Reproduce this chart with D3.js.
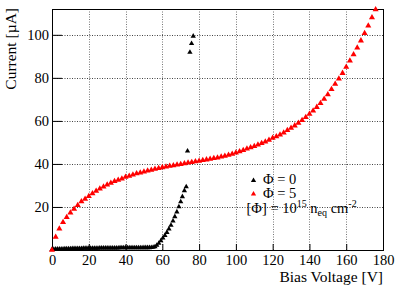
<!DOCTYPE html>
<html>
<head>
<meta charset="utf-8">
<script src="https://cdn.jsdelivr.net/npm/d3@7"></script>
<style>
  html, body { margin: 0; padding: 0; background: #fff; }
  svg { display: block; }
  svg text { font-family: "Liberation Serif", "Times New Roman", serif; }
</style>
</head>
<body>
<svg id="chart" width="398" height="287"></svg>
<script>
// Φ = 0 : bias voltage [V] and current [µA]
const voltPhi0 = [
  0, 1, 2, 3, 4, 5, 6, 7, 8, 9, 10, 11, 12, 13, 14, 15, 16, 17, 18, 19,
  20, 21, 22, 23, 24, 25, 26, 27, 28, 29, 30, 31, 32, 33, 34, 35, 36, 37, 38, 39,
  40, 41, 42, 43, 44, 45, 46, 47, 48, 49, 50, 51, 52, 53, 54, 55,
  56, 57, 58.1, 59.2, 60.3, 61.4, 62.5, 63.6, 64.7, 65.8, 66.8, 67.9, 69, 70, 70.9, 72, 73,
  73.7, 75, 75.9, 76.8
];
const currPhi0 = [
  0.2, 0.3, 0.4, 0.4, 0.5, 0.5, 0.5, 0.6, 0.6, 0.6, 0.6, 0.7, 0.7, 0.7, 0.7, 0.7, 0.7, 0.8, 0.8, 0.8,
  0.8, 0.8, 0.8, 0.8, 0.8, 0.8, 0.9, 0.9, 0.9, 0.9, 0.9, 0.9, 0.9, 0.9, 0.9, 0.9, 0.9, 1.0, 1.0, 1.0,
  1.0, 1.0, 1.0, 1.0, 1.0, 1.0, 1.0, 1.0, 1.0, 1.0, 1.1, 1.1, 1.1, 1.1, 1.2, 1.3,
  1.5, 2.2, 3.1, 4.3, 5.6, 6.8, 8.2, 9.8, 11.5, 13.5, 15.5, 17.7, 20.1, 22.4, 24.8, 27.6, 29.4,
  46.0, 91.9, 96.0, 99.4
];

// Φ = 5
const voltPhi5 = [
  0, 2, 4, 6, 8, 10, 12, 14, 16, 18, 20, 22, 24, 26, 28, 30, 32, 34, 36, 38,
  40, 42, 44, 46, 48, 50, 52, 54, 56, 58, 60, 62, 64, 66, 68, 70, 72, 74, 76, 78,
  80, 82, 84, 86, 88, 90, 92, 94, 96, 98, 100, 102, 104, 106, 108, 110, 112, 114, 116, 118,
  120, 122, 124, 126, 128, 130, 132, 134, 136, 138, 140, 142, 144, 146, 148, 150, 152, 154, 156, 158,
  160, 162, 164, 166, 168, 170, 172, 174, 176
];
const currPhi5 = [
  0, 6.0, 9.9, 12.9, 15.2, 17.3, 19.1, 20.8, 22.5, 23.7, 25.0, 26.3, 27.4, 28.5, 29.4, 30.3, 31.1, 31.9, 32.5, 33.1,
  33.9, 34.4, 35.0, 35.5, 35.9, 36.4, 36.8, 37.2, 37.6, 38.0, 38.4, 38.7, 39.0, 39.3, 39.6, 39.9, 40.2, 40.5, 40.8, 41.1,
  41.4, 41.7, 42.0, 42.3, 42.6, 42.9, 43.3, 43.7, 44.1, 44.6, 45.2, 45.8, 46.4, 47.0, 47.6, 48.2, 48.9, 49.6, 50.3, 51.1,
  52.0, 52.8, 53.6, 54.5, 55.6, 56.7, 57.8, 59.0, 60.3, 61.7, 63.2, 64.7, 66.4, 68.2, 70.2, 72.3, 74.7, 77.1, 79.6, 82.2,
  85.0, 88.0, 90.9, 94.0, 97.3, 100.7, 104.2, 108.0, 111.8
];

const xMajor = [0, 20, 40, 60, 80, 100, 120, 140, 160, 180];
const yMajor = [0, 20, 40, 60, 80, 100];
const yLabels = [20, 40, 60, 80, 100];

const svg = d3.select('#chart');
const W = 398;
const H = 287;
const margin = { top: 9, right: 15, bottom: 37, left: 52 };
const width = W - margin.left - margin.right;
const height = H - margin.top - margin.bottom;

const x = d3.scaleLinear().domain([0, 180]).range([0, width]);
const y = d3.scaleLinear().domain([0, 112]).range([height, 0]);

const g = svg.append('g')
  .attr('transform', `translate(${margin.left},${margin.top})`);

// grid
g.append('g').selectAll('line')
  .data(xMajor.filter((d) => d > 0 && d < 180))
  .enter().append('line')
  .attr('x1', (d) => Math.round(x(d)) + 0.5)
  .attr('x2', (d) => Math.round(x(d)) + 0.5)
  .attr('y1', 0)
  .attr('y2', height)
  .attr('stroke', '#777')
  .attr('stroke-dasharray', '1,1.5');

g.append('g').selectAll('line')
  .data(yMajor.filter((d) => d > 0))
  .enter().append('line')
  .attr('y1', (d) => Math.round(y(d)) + 0.5)
  .attr('y2', (d) => Math.round(y(d)) + 0.5)
  .attr('x1', 0)
  .attr('x2', width)
  .attr('stroke', '#444')
  .attr('stroke-dasharray', '1,1.5');

// ticks (inward)
const xMinor = d3.range(0, 181, 4).filter((d) => d % 20 !== 0);
const yMinor = d3.range(0, 113, 4).filter((d) => d % 20 !== 0);

const xAxis = g.append('g').attr('transform', `translate(0,${height})`);
xAxis.call(d3.axisBottom(x).tickValues(xMinor).tickSize(-3).tickFormat(''));
xAxis.call(d3.axisBottom(x).tickValues(xMajor).tickSize(-6).tickPadding(5)
  .tickFormat(d3.format('d')));
xAxis.selectAll('.domain').remove();
xAxis.attr('font-family', null).attr('font-size', 14.5);
xAxis.selectAll('text').attr('fill', '#000');

const yAxis = g.append('g');
yAxis.call(d3.axisLeft(y).tickValues(yMinor).tickSize(-5).tickFormat(''));
yAxis.call(d3.axisLeft(y).tickValues(yMajor).tickSize(-10).tickPadding(3)
  .tickFormat((d) => (yLabels.includes(d) ? d : '')));
yAxis.selectAll('.domain').remove();
yAxis.attr('font-family', null).attr('font-size', 14.5);
yAxis.selectAll('text').attr('fill', '#000');

// frame
g.append('rect')
  .attr('x', 0.5)
  .attr('y', 0.5)
  .attr('width', width)
  .attr('height', height)
  .attr('fill', 'none')
  .attr('stroke', '#000');

// markers
const triBlack = d3.symbol().type(d3.symbolTriangle).size(12);
const triRed = d3.symbol().type(d3.symbolTriangle).size(16);

const phi0 = voltPhi0.map((v, i) => ({ v, c: currPhi0[i] }));
const phi5 = voltPhi5.map((v, i) => ({ v, c: currPhi5[i] }));

g.append('g').selectAll('path')
  .data(phi0)
  .enter().append('path')
  .attr('d', triBlack)
  .attr('fill', '#000')
  .attr('transform', (d) => `translate(${x(d.v)},${y(d.c)})`);

g.append('g').selectAll('path')
  .data(phi5)
  .enter().append('path')
  .attr('d', triRed)
  .attr('fill', '#ff0000')
  .attr('transform', (d) => `translate(${x(d.v)},${y(d.c)})`);

// axis titles
svg.append('text')
  .attr('x', margin.left + width)
  .attr('y', 282)
  .attr('text-anchor', 'end')
  .attr('font-size', 15.5)
  .text('Bias Voltage [V]');

svg.append('text')
  .attr('transform', 'translate(15.5,8) rotate(-90)')
  .attr('text-anchor', 'end')
  .attr('font-size', 15.5)
  .text('Current [µA]');

// legend
const legend = svg.append('g');
legend.append('path')
  .attr('d', triBlack)
  .attr('fill', '#000')
  .attr('transform', 'translate(253.5,180.5)');
legend.append('text')
  .attr('x', 263).attr('y', 184)
  .attr('font-size', 14.5)
  .text('Φ = 0');
legend.append('path')
  .attr('d', triBlack)
  .attr('fill', '#ff0000')
  .attr('transform', 'translate(253.5,194)');
legend.append('text')
  .attr('x', 263).attr('y', 197.5)
  .attr('font-size', 14.5)
  .text('Φ = 5');

const fl = legend.append('text')
  .attr('x', 246.5).attr('y', 213)
  .attr('font-size', 14.5);
fl.append('tspan').text('[Φ] = 10');
fl.append('tspan').attr('font-size', 10).attr('dy', -6).text('15');
fl.append('tspan').attr('dy', 6).text(' n');
fl.append('tspan').attr('font-size', 10).attr('dy', 3).text('eq');
fl.append('tspan').attr('dy', -3).text(' cm');
fl.append('tspan').attr('font-size', 10).attr('dy', -6).text('-2');
</script>
</body>
</html>
